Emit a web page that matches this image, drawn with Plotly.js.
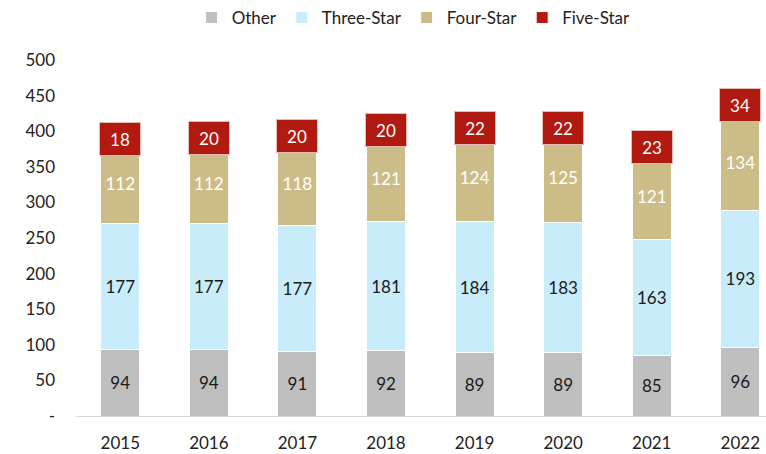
<!DOCTYPE html>
<html>
<head>
<meta charset="utf-8">
<script src="https://cdn.plot.ly/plotly-3.0.1.min.js"></script>
<style>html,body{margin:0;padding:0;background:#fff;}#chart{width:766px;height:454px;}</style>
</head>
<body>
<div id="chart"></div>
<script>
const years = ["2015","2016","2017","2018","2019","2020","2021","2022"];
const other = [94, 94, 91, 92, 89, 89, 85, 96];
const threeStar = [177, 177, 177, 181, 184, 183, 163, 193];
const fourStar = [112, 112, 118, 121, 124, 125, 121, 134];
const fiveStar = [18, 20, 20, 20, 22, 22, 23, 34];
const yTickVals = [0, 50, 100, 150, 200, 250, 300, 350, 400, 450, 500];
const yTickText = ["-", "50", "100", "150", "200", "250", "300", "350", "400", "450", "500"];

const FONT = "Lato, 'Liberation Sans', sans-serif";
const barWidth = 0.44;

function mk(name, vals, color, txtColor, showText) {
  return {
    type: "bar", name: name, x: years, y: vals,
    width: barWidth,
    marker: {color: color, line: {color: "#ffffff", width: 1}},
    text: showText ? vals.map(String) : undefined,
    textposition: showText ? "inside" : "none",
    insidetextanchor: "middle",
    textangle: 0,
    constraintext: "none",
    textfont: {family: FONT, size: 17, color: txtColor},
    hoverinfo: "skip"
  };
}

const data = [
  mk("Other", other, "#BFBFBF", "#1a1a1a", true),
  mk("Three-Star", threeStar, "#C8ECFA", "#1a1a1a", true),
  mk("Four-Star", fourStar, "#CCBD88", "#ffffff", true),
  mk("Five-Star", fiveStar, "#B01A10", "#ffffff", false)
];

const annotations = years.map((yr, i) => {
  const base = other[i] + threeStar[i] + fourStar[i];
  return {
    x: i, y: base + fiveStar[i] / 2, xref: "x", yref: "y",
    text: String(fiveStar[i]), showarrow: false,
    font: {family: FONT, size: 17, color: "#ffffff"},
    bgcolor: "#B01A10", bordercolor: "#E8B8B4", borderwidth: 1,
    width: 38, height: 30, align: "center", valign: "middle",
    yshift: -2
  };
});

const layout = {
  width: 766, height: 454,
  margin: {l: 76, r: 0, t: 60, b: 38},
  paper_bgcolor: "#ffffff", plot_bgcolor: "#ffffff",
  barmode: "stack",
  font: {family: FONT, size: 16, color: "#222"},
  showlegend: true,
  legend: {
    orientation: "h", x: 0.54, xref: "container", xanchor: "center",
    y: 1, yref: "container", yanchor: "top",
    traceorder: "normal",
    font: {family: FONT, size: 17, color: "#222"},
    itemwidth: 30
  },
  xaxis: {
    type: "category",
    range: [-0.5, 7.29],
    showgrid: false, zeroline: false,
    showline: true, linecolor: "#D9D9D9", linewidth: 1,
    ticks: "", ticklabelstandoff: 12,
    tickfont: {family: FONT, size: 17, color: "#222"},
    fixedrange: true
  },
  yaxis: {
    range: [0, 500],
    tickvals: yTickVals, ticktext: yTickText,
    showgrid: false, zeroline: false, showline: false,
    ticks: "", ticklabelstandoff: 20,
    tickfont: {family: FONT, size: 17, color: "#222"},
    fixedrange: true
  },
  annotations: annotations
};

Plotly.newPlot("chart", data, layout, {displayModeBar: false, staticPlot: true});
</script>
</body>
</html>
